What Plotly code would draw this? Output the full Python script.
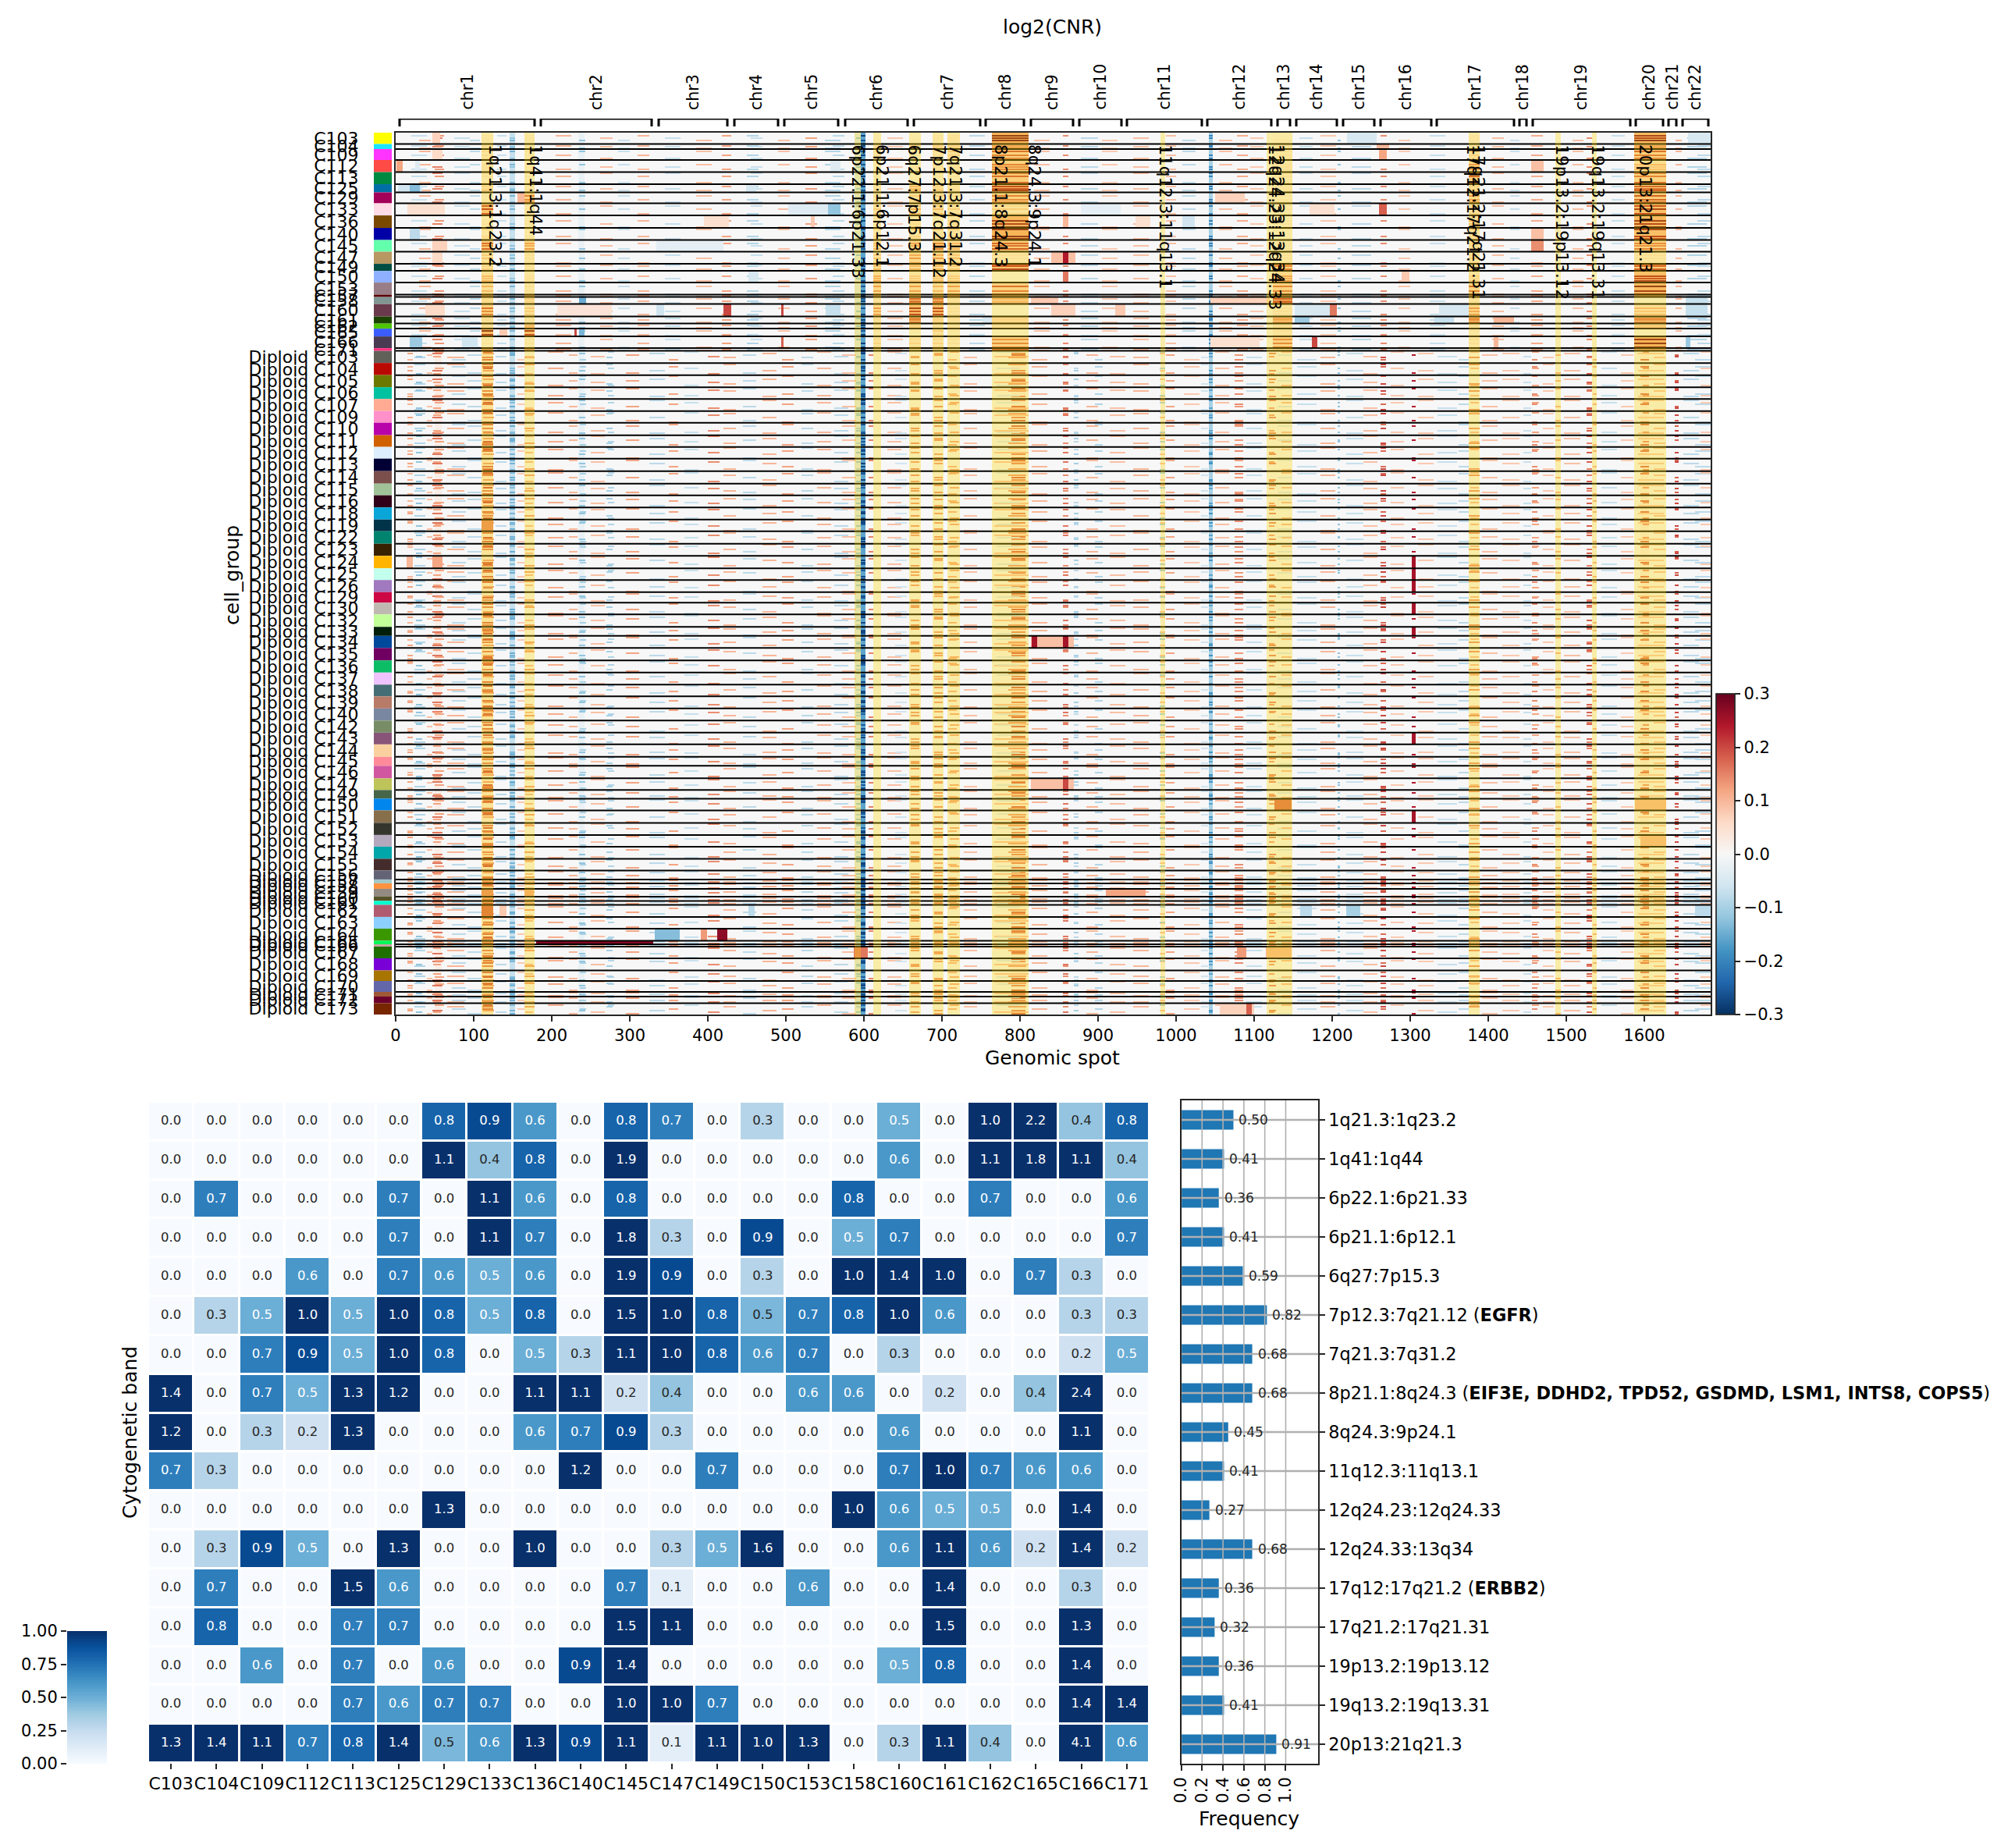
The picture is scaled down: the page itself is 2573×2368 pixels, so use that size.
import numpy as np
import plotly.graph_objects as go

W, H = 2573, 2368
FONT = "DejaVu Sans"

# ---- top heatmap: groups ----
tumor_groups = ["C103", "C104", "C109", "C112", "C113", "C125", "C129", "C133", "C136", "C140", "C145", "C147",
                "C149", "C150", "C153", "C157", "C158", "C160", "C161", "C162", "C165", "C166", "C171"]
tumor_cells = [29, 13, 28, 31, 31, 21, 28, 31, 32, 31, 30, 31, 18, 30, 31, 6, 18, 32, 18, 13, 20, 30, 7]
tumor_colors = ["#ffff00", "#1ce6ff", "#ff34ff", "#ff4a46", "#008941", "#006fa6", "#a30059", "#ffdbe5", "#7a4900",
                "#0000a6", "#63ffac", "#b79762", "#004d43", "#8fb0ff", "#997d87", "#5a0007", "#809693", "#6a3a4c",
                "#1b4400", "#4fc601", "#3b5dff", "#4a3b53", "#ff2f80"]

diploid_ids = [103, 104, 105, 106, 107, 109, 110, 111, 112, 113, 114, 115, 116, 118, 119, 122, 123, 124, 125, 126,
               129, 130, 132, 133, 134, 135, 136, 137, 138, 139, 140, 142, 143, 144, 145, 146, 147, 149, 150, 151,
               152, 153, 154, 155, 156, 157, 158, 159, 160, 161, 162, 163, 164, 165, 166, 167, 168, 169, 170, 171,
               172, 173]
diploid_groups = [f"Diploid C{i}" for i in diploid_ids]
diploid_cells = [31, 31, 31, 30, 31, 30, 32, 30, 30, 32, 32, 30, 31, 31, 30, 32, 31, 32, 30, 31, 27, 30, 32, 23, 31,
                 32, 31, 31, 30, 31, 31, 31, 30, 32, 23, 32, 30, 22, 30, 32, 31, 30, 31, 30, 23, 10, 14, 20, 11, 10,
                 31, 30, 31, 9, 6, 30, 31, 27, 28, 12, 17, 29]
diploid_colors = ["#61615a", "#ba0900", "#6b7900", "#00c2a0", "#ffaa92", "#ff90c9", "#b903aa", "#d16100", "#ddefff",
                  "#000035", "#7b4f4b", "#a1c299", "#300018", "#0aa6d8", "#013349", "#00846f", "#372101", "#ffb500",
                  "#c2ffed", "#a079bf", "#cc0744", "#c0b9b2", "#c2ff99", "#001e09", "#00489c", "#6f0062", "#0cbd66",
                  "#eec3ff", "#456d75", "#b77b68", "#7a87a1", "#788d66", "#885578", "#fad09f", "#ff8a9a", "#d157a0",
                  "#bec459", "#456648", "#0086ed", "#886f4c", "#34362d", "#b4a8bd", "#00a6aa", "#452c2c", "#636375",
                  "#a3c8c9", "#ff913f", "#938a81", "#575329", "#00fecf", "#b05b6f", "#8cd0ff", "#3b9700", "#04f757",
                  "#c8a1a1", "#1e6e00", "#7900d7", "#a77500", "#6367a9", "#a05837", "#6b002c", "#772600"]

chrom_names = [f"chr{i}" for i in range(1, 23)]
chrom_start = [5, 186, 337, 434, 498, 576, 664, 756, 814, 876, 937, 1040, 1130, 1154, 1214, 1262, 1334, 1440, 1457,
               1589, 1631, 1649]
chrom_end = [178, 328, 425, 490, 567, 656, 749, 805, 868, 930, 1033, 1122, 1146, 1206, 1254, 1327, 1433, 1449, 1582,
             1624, 1641, 1682]

band_names = ["1q21.3:1q23.2", "1q41:1q44", "6p22.1:6p21.33", "6p21.1:6p12.1", "6q27:7p15.3", "7p12.3:7q21.12",
              "7q21.3:7q31.2", "8p21.1:8q24.3", "8q24.3:9p24.1", "11q12.3:11q13.1", "12q24.23:12q24.33",
              "12q24.33:13q34", "17q12:17q21.2", "17q21.2:17q21.31", "19p13.2:19p13.12", "19q13.2:19q13.31",
              "20p13:21q21.3"]
band_start = [110, 165, 588, 612, 658, 688, 707, 764, 775, 980, 1116, 1124, 1375, 1382, 1486, 1533, 1587]
band_end = [125, 178, 596, 622, 673, 702, 723, 775, 811, 986, 1124, 1149, 1382, 1389, 1493, 1539, 1628]
band_label_x = [127, 179, 592, 623, 664, 696, 717, 775, 818, 986, 1126, 1130, 1380, 1387, 1494, 1540, 1601]

# recurring columns seen in every group (start, end, log2 ratio)
shared_columns = [(588, 596, -0.04), (596, 602, -0.16), (1042, 1047, -0.1), (146, 153, -0.07), (234, 242, -0.02)]

# pale column tint of the diploid block, averaged by eye (start, end, log2 ratio)
diploid_columns = [(110, 125, 0.03), (789, 807, 0.02), (1595, 1606, 0.02), (50, 59, 0.02)]

# rough per-group row of the streak in a column, one int per diploid group (only estimates: too fine to read exactly)
hits_a = [4, 18, 9, 22, 2, 14, 25, 7, 16, 11, 20, 3, 24, 13, 6, 19, 1, 10, 26, 15, 8, 21, 5, 12, 23, 17, 2, 9, 20, 14, 6, 25,
          11, 18, 3, 22, 8, 13, 1, 16, 24, 5, 19, 10, 4, 2, 7, 12, 3, 2, 21, 15, 9, 1, 1, 17, 6, 23, 11, 4, 8, 18]
hits_b = [15, 2, 21, 8, 26, 5, 12, 19, 1, 24, 9, 16, 6, 20, 27, 3, 13, 23, 7, 2, 18, 10, 25, 4, 14, 7, 21, 1, 11, 26, 17, 3,
          22, 8, 14, 5, 19, 2, 24, 10, 6, 20, 12, 1, 16, 5, 1, 6, 7, 5, 11, 3, 24, 3, 2, 8, 19, 13, 4, 8, 12, 7]
hits_c = [9, 24, 13, 1, 17, 22, 6, 11, 26, 3, 14, 20, 8, 1, 23, 12, 18, 5, 10, 27, 3, 16, 9, 20, 2, 11, 25, 15, 6, 1, 21, 13,
          8, 24, 17, 2, 10, 6, 19, 27, 14, 3, 7, 22, 11, 6, 9, 15, 1, 6, 17, 24, 4, 5, 3, 12, 1, 20, 22, 1, 3, 25]
hits_d = [21, 7, 1, 16, 11, 27, 3, 22, 8, 18, 5, 25, 12, 9, 2, 24, 7, 15, 20, 4, 13, 1, 19, 7, 9, 26, 6, 22, 16, 10, 2, 19,
          26, 12, 5, 16, 24, 15, 8, 3, 20, 25, 1, 14, 18, 1, 4, 2, 5, 1, 7, 19, 13, 2, 1, 23, 10, 4, 17, 6, 9, 13]
hits_e = [12, 26, 17, 5, 21, 8, 18, 1, 13, 6, 25, 10, 19, 3, 15, 8, 22, 2, 16, 11, 21, 6, 14, 1, 18, 3, 12, 27, 23, 19, 9, 7,
          15, 3, 10, 26, 2, 9, 12, 21, 1, 16, 24, 6, 8, 4, 11, 9, 8, 3, 25, 9, 18, 6, 4, 2, 15, 8, 1, 3, 14, 22]
hits_f = [1, 11, 24, 19, 7, 3, 22, 15, 5, 27, 2, 8, 16, 25, 10, 14, 5, 20, 3, 18, 11, 26, 2, 16, 6, 21, 9, 5, 1, 24, 13, 10,
          4, 20, 1, 11, 15, 19, 3, 7, 12, 9, 27, 17, 2, 7, 3, 17, 2, 7, 3, 12, 21, 4, 2, 27, 4, 16, 7, 9, 1, 3]

# streak columns of the diploid block (start, end, log2 ratio, row list)
diploid_features = [
    (15, 22, .12, hits_a), (15, 22, .1, hits_d), (24, 38, -.09, hits_b), (26, 34, -.12, hits_e), (40, 47, .09, hits_c),
    (47, 60, .16, hits_a), (48, 58, .12, hits_e), (50, 62, .12, hits_f), (66, 88, .1, hits_b), (72, 90, -.08, hits_d),
    (92, 110, -.08, hits_c), (111, 125, .16, hits_b), (111, 125, .18, hits_d), (112, 124, .2, hits_f), (112, 126, .13, hits_a),
    (128, 142, -.08, hits_e), (146, 153, -.14, hits_a), (146, 153, -.15, hits_c), (146, 153, -.13, hits_f),
    (156, 165, .08, hits_d), (165, 178, .13, hits_b), (166, 176, .1, hits_e), (195, 215, .11, hits_f), (222, 233, .1, hits_c),
    (235, 243, -.12, hits_a), (236, 244, -.1, hits_d), (250, 268, .09, hits_e), (270, 278, -.1, hits_b), (272, 280, -.09, hits_f),
    (295, 312, .12, hits_c), (325, 345, -.08, hits_a), (350, 362, .12, hits_d), (370, 388, -.07, hits_f), (400, 415, .14, hits_e),
    (420, 436, .1, hits_b), (445, 462, -.08, hits_c), (470, 488, .1, hits_a), (495, 510, .12, hits_d), (520, 535, -.08, hits_b),
    (540, 558, .1, hits_f), (562, 580, -.08, hits_e), (572, 590, .09, hits_c),
    (590, 596, -.1, hits_b), (590, 596, -.12, hits_e), (596, 602, -.28, hits_a), (596, 602, -.27, hits_d), (596, 602, -.25, hits_f),
    (606, 612, .15, hits_c), (630, 648, .09, hits_f), (640, 655, -.06, hits_a), (660, 671, .14, hits_b), (660, 671, .13, hits_e),
    (690, 701, .14, hits_c), (690, 701, .13, hits_a), (708, 719, .11, hits_d), (710, 722, .12, hits_f), (728, 745, .09, hits_b),
    (767, 811, .09, hits_e), (789, 807, .15, hits_a), (789, 807, .18, hits_c), (770, 800, -.05, hits_f), (785, 808, .13, hits_b),
    (815, 835, .1, hits_d), (855, 862, .14, hits_b), (855, 862, .16, hits_e), (869, 875, -.1, hits_a), (869, 875, -.08, hits_f),
    (885, 900, .1, hits_c), (896, 906, -.09, hits_d), (915, 935, .09, hits_e), (945, 965, .1, hits_b), (979, 986, .09, hits_a),
    (979, 986, -.1, hits_f), (987, 998, .12, hits_c), (1010, 1030, .08, hits_d), (1032, 1041, -.06, hits_b), (1042, 1047, -.16, hits_e),
    (1042, 1047, -.18, hits_a), (1050, 1068, .09, hits_f), (1075, 1086, .13, hits_c), (1075, 1086, .14, hits_d), (1090, 1110, -.07, hits_b),
    (1119, 1126, .13, hits_e), (1119, 1128, .15, hits_a), (1130, 1148, -.05, hits_c), (1135, 1148, .1, hits_f), (1155, 1180, -.07, hits_d),
    (1185, 1204, .1, hits_b), (1207, 1210, -.12, hits_c), (1207, 1210, -.12, hits_f), (1218, 1240, -.07, hits_a), (1240, 1258, .09, hits_e),
    (1262, 1269, .2, hits_b), (1262, 1269, .17, hits_d), (1275, 1292, .08, hits_f), (1302, 1307, .24, hits_c), (1310, 1330, .08, hits_a),
    (1335, 1360, -.07, hits_e), (1362, 1375, -.08, hits_d), (1375, 1389, .14, hits_b), (1377, 1388, .1, hits_f), (1392, 1412, .09, hits_c),
    (1418, 1440, .08, hits_a), (1445, 1455, -.07, hits_e), (1456, 1463, .14, hits_d), (1456, 1465, .12, hits_f), (1470, 1484, .08, hits_b),
    (1486, 1493, .11, hits_c), (1497, 1518, .09, hits_a), (1526, 1533, .18, hits_e), (1526, 1533, .15, hits_b), (1534, 1539, .11, hits_d),
    (1545, 1565, -.07, hits_f), (1570, 1586, .08, hits_c), (1592, 1625, .08, hits_a), (1595, 1606, .17, hits_d), (1598, 1606, .14, hits_f),
    (1612, 1627, .09, hits_b), (1639, 1644, .2, hits_e), (1639, 1644, .18, hits_c), (1650, 1670, -.08, hits_a), (1665, 1685, -.08, hits_d),
    (1672, 1685, .08, hits_f),
]

# rough row of the streak per tumour group, same order as tumor_groups
tumor_hits_a = [5, 2, 14, 22, 8, 3, 17, 25, 11, 19, 6, 27, 4, 12, 20, 1, 9, 24, 7, 2, 13, 16, 1]
tumor_hits_b = [18, 8, 3, 9, 24, 14, 6, 12, 27, 2, 21, 15, 11, 24, 7, 2, 2, 8, 12, 8, 4, 26, 3]
tumor_hits_c = [11, 5, 22, 16, 1, 10, 23, 4, 19, 26, 13, 7, 1, 18, 27, 3, 13, 17, 3, 5, 16, 5, 2]

# streak columns of the tumour block (start, end, log2 ratio, row list)
tumor_features = [
    (20, 40, -.07, tumor_hits_a), (30, 45, .1, tumor_hits_b), (47, 60, .15, tumor_hits_c), (50, 62, .13, tumor_hits_a),
    (75, 95, -.07, tumor_hits_c), (95, 108, -.08, tumor_hits_b), (130, 142, -.07, tumor_hits_a), (146, 153, -.14, tumor_hits_b),
    (146, 153, -.12, tumor_hits_c), (205, 225, .1, tumor_hits_a), (235, 243, -.12, tumor_hits_b), (262, 278, .09, tumor_hits_c),
    (285, 300, -.07, tumor_hits_b), (310, 325, .1, tumor_hits_a), (345, 365, -.07, tumor_hits_c), (385, 405, .09, tumor_hits_b),
    (418, 430, .12, tumor_hits_a), (450, 465, -.09, tumor_hits_a), (455, 470, -.07, tumor_hits_c), (490, 505, .09, tumor_hits_b),
    (525, 540, .12, tumor_hits_c), (550, 570, -.09, tumor_hits_b), (560, 575, -.08, tumor_hits_a), (590, 596, -.12, tumor_hits_c),
    (596, 602, -.28, tumor_hits_a), (596, 602, -.26, tumor_hits_b), (630, 650, .08, tumor_hits_c), (735, 755, -.08, tumor_hits_a),
    (818, 838, .09, tumor_hits_b), (855, 862, .14, tumor_hits_a), (878, 900, -.08, tumor_hits_c), (905, 925, .08, tumor_hits_b),
    (945, 965, .09, tumor_hits_c), (987, 1000, .09, tumor_hits_a), (1008, 1025, -.08, tumor_hits_b), (1042, 1047, -.2, tumor_hits_a),
    (1042, 1047, -.2, tumor_hits_c), (1055, 1072, .09, tumor_hits_b), (1078, 1092, .11, tumor_hits_a), (1095, 1112, .08, tumor_hits_c),
    (1158, 1175, -.07, tumor_hits_c), (1185, 1205, .08, tumor_hits_a), (1207, 1211, -.12, tumor_hits_b), (1225, 1250, -.08, tumor_hits_c),
    (1262, 1270, .14, tumor_hits_a), (1285, 1300, .08, tumor_hits_b), (1325, 1345, -.07, tumor_hits_a), (1405, 1420, .09, tumor_hits_c),
    (1428, 1440, -.07, tumor_hits_b), (1455, 1470, .11, tumor_hits_a), (1508, 1522, .09, tumor_hits_b), (1526, 1533, .14, tumor_hits_c),
    (1558, 1575, -.07, tumor_hits_a), (1640, 1648, .1, tumor_hits_b), (1655, 1680, -.09, tumor_hits_c), (1668, 1685, -.08, tumor_hits_a),
]

# how hot each amplified band runs in each tumour group, same order as tumor_groups
level_1q21 = [.02, .03, .04, .03, .03, .05, .02, .16, .02, .04, .14, .06, .05, .08, .08, .1, .04, .13, .03, .03, .2, .02, .1]
level_1q41 = [.02, .02, .02, .02, .02, .02, .12, .02, .02, .02, .1, .03, .03, .03, .03, .1, .05, .06, .02, .08, .18, .02, .1]
level_6p21 = [.01, .03, .03, .01, .02, .03, .03, .05, .03, .04, .07, .06, .07, .09, .1, .1, .03, .1, .03, .02, .02, .05, .05]
level_6q27 = [.01, .05, .02, .02, .01, .08, .05, .08, .05, .05, .1, .1, .08, .06, .1, .1, .14, .18, .13, .05, .01, .05, .05]
level_7p = [.02, .05, .03, .03, .02, .05, .05, .07, .02, .05, .12, .1, .08, .07, .08, .1, .13, .18, .05, .02, .05, .05, .05]
level_7q = [.03, .05, .05, .03, .02, .03, .04, .05, .05, .05, .08, .07, .06, .06, .1, .1, .03, .03, .03, .02, .02, .03, .02]
level_8 = [.22, .1, .13, .12, .14, .18, .12, .05, .2, .22, .15, .03, .17, .0, .13, .1, .08, .0, .05, .03, .0, .12, .15]
level_12q = [.01, .02, .03, .03, .03, .02, .02, .02, .02, .01, .02, .03, .12, .1, .12, .1, .15, .03, .1, .03, .03, .12, .05]
level_17q = [.02, .02, .05, .1, .15, .05, .1, .05, .08, .05, .05, .05, .05, .05, .13, .1, .03, .1, .12, .02, .02, .03, .02]
level_20 = [.2, .1, .13, .07, .13, .15, .15, .18, .2, .18, .12, .03, .15, .18, .2, .1, .0, .07, .12, .06, .0, .22, .1]
tumor_bands = [(level_1q21, 110, 125), (level_1q41, 165, 178), (level_6p21, 612, 622), (level_6q27, 658, 673),
               (level_7p, 688, 702), (level_7q, 707, 723), (level_8, 764, 811), (level_12q, 1124, 1149),
               (level_17q, 1375, 1389), (level_20, 1587, 1628)]

# single patches (group, start, end, log2 ratio)
group_patches = [
    ("C103", 47, 57, .07), ("C109", 47, 60, .06), ("C112", 1, 9, .12), ("C112", 25, 31, -.04), ("C112", 557, 570, -.04),
    ("C125", 3, 34, -.06), ("C125", 18, 31, -.13), ("C125", 449, 462, -.05), ("C129", 156, 165, .1),
    ("C133", 15, 63, .05), ("C133", 503, 570, -.04), ("C133", 554, 570, -.12), ("C136", 395, 427, .05),
    ("C136", 532, 537, .08), ("C140", 18, 31, -.08), ("C145", 47, 66, .07), ("C145", 334, 420, -.03),
    ("C147", 47, 60, .06), ("C150", 452, 465, -.05), ("C160", 38, 63, .06), ("C160", 207, 277, .04),
    ("C160", 420, 430, .2), ("C160", 494, 497, .2), ("C160", 551, 570, -.07), ("C160", 334, 344, -.06),
    ("C158", 235, 244, -.15), ("C161", 752, 764, -.05), ("C165", 229, 232, .2), ("C165", 235, 242, -.14),
    ("C165", 133, 143, .08), ("C166", 18, 34, -.11), ("C166", 85, 105, -.06), ("C166", 494, 497, .18),
    ("C103", 1219, 1257, -.05), ("C104", 1257, 1273, .1), ("C109", 1260, 1270, .12), ("C133", 1171, 1203, .05),
    ("C133", 1260, 1270, .18), ("C133", 878, 929, -.03), ("C129", 1050, 1088, .07), ("C136", 1008, 1024, -.06),
    ("C136", 855, 862, .1), ("C136", 948, 967, .05), ("C145", 1455, 1471, .14), ("C140", 1455, 1471, .09),
    ("C112", 1455, 1471, .09), ("C147", 840, 871, .09), ("C147", 855, 862, .24), ("C150", 855, 862, .16),
    ("C150", 1289, 1299, .08), ("C158", 814, 849, .08), ("C158", 1044, 1120, .07), ("C160", 1152, 1203, -.05),
    ("C160", 1197, 1206, .16), ("C160", 1337, 1375, -.05), ("C160", 840, 871, .07), ("C160", 922, 935, .08),
    ("C161", 1152, 1171, -.11), ("C161", 1331, 1356, -.07), ("C161", 1407, 1433, .1), ("C166", 1174, 1181, .2),
    ("C166", 1044, 1107, .05), ("C166", 1407, 1413, .1), ("C166", 1653, 1659, -.11), ("C158", 1653, 1681, -.07),
    ("C160", 1653, 1681, -.07), ("C103", 1656, 1685, -.05),
    ("Diploid C134", 814, 869, .09), ("Diploid C134", 815, 822, .25), ("Diploid C134", 855, 862, .25),
    ("Diploid C147", 814, 869, .09), ("Diploid C147", 855, 862, .2), ("Diploid C150", 1126, 1148, .17),
    ("Diploid C150", 1588, 1628, .1), ("Diploid C153", 1595, 1628, .1), ("Diploid C162", 1159, 1174, -.08),
    ("Diploid C162", 1218, 1236, -.1), ("Diploid C162", 1665, 1685, -.08), ("Diploid C165", 180, 330, .28),
    ("Diploid C164", 332, 364, -.13), ("Diploid C164", 412, 425, .27), ("Diploid C164", 391, 399, .13),
    ("Diploid C162", 133, 142, .08), ("Diploid C162", 452, 460, -.08), ("Diploid C162", 110, 125, .18),
    ("Diploid C119", 110, 125, .15), ("Diploid C124", 14, 22, .1), ("Diploid C124", 47, 60, .12),
    ("Diploid C159", 110, 125, .15), ("Diploid C159", 165, 177, .12), ("Diploid C159", 910, 961, .12),
    ("Diploid C167", 587, 605, .16), ("Diploid C167", 1115, 1148, .1), ("Diploid C167", 1078, 1090, .13),
    ("Diploid C173", 1056, 1100, .07), ("Diploid C173", 1090, 1097, .18), ("Diploid C124", 1302, 1307, .25),
    ("Diploid C125", 1302, 1307, .25), ("Diploid C126", 1302, 1307, .25), ("Diploid C130", 1302, 1307, .25),
    ("Diploid C133", 1302, 1307, .25), ("Diploid C143", 1302, 1307, .25), ("Diploid C151", 1302, 1307, .25),
]

# ---- lower panel ----
clone_names = ["C103", "C104", "C109", "C112", "C113", "C125", "C129", "C133", "C136", "C140", "C145", "C147",
               "C149", "C150", "C153", "C158", "C160", "C161", "C162", "C165", "C166", "C171"]
burden = [
    [0, 0, 0, 0, 0, 0, .8, .9, .6, 0, .8, .7, 0, .3, 0, 0, .5, 0, 1.0, 2.2, .4, .8],
    [0, 0, 0, 0, 0, 0, 1.1, .4, .8, 0, 1.9, 0, 0, 0, 0, 0, .6, 0, 1.1, 1.8, 1.1, .4],
    [0, .7, 0, 0, 0, .7, 0, 1.1, .6, 0, .8, 0, 0, 0, 0, .8, 0, 0, .7, 0, 0, .6],
    [0, 0, 0, 0, 0, .7, 0, 1.1, .7, 0, 1.8, .3, 0, .9, 0, .5, .7, 0, 0, 0, 0, .7],
    [0, 0, 0, .6, 0, .7, .6, .5, .6, 0, 1.9, .9, 0, .3, 0, 1.0, 1.4, 1.0, 0, .7, .3, 0],
    [0, .3, .5, 1.0, .5, 1.0, .8, .5, .8, 0, 1.5, 1.0, .8, .46, .7, .8, 1.0, .6, 0, 0, .3, .3],
    [0, 0, .7, .9, .5, 1.0, .8, 0, .5, .3, 1.1, 1.0, .8, .6, .7, 0, .3, 0, 0, 0, .2, .5],
    [1.4, 0, .7, .5, 1.3, 1.2, 0, 0, 1.1, 1.1, .2, .4, 0, 0, .6, .6, 0, .2, 0, .4, 2.4, 0],
    [1.2, 0, .3, .2, 1.3, 0, 0, 0, .6, .7, .9, .3, 0, 0, 0, 0, .6, 0, 0, 0, 1.1, 0],
    [.7, .3, 0, 0, 0, 0, 0, 0, 0, 1.2, 0, 0, .7, 0, 0, 0, .7, 1.0, .7, .6, .6, 0],
    [0, 0, 0, 0, 0, 0, 1.3, 0, 0, 0, 0, 0, 0, 0, 0, 1.0, .6, .5, .5, 0, 1.4, 0],
    [0, .3, .9, .5, 0, 1.3, 0, 0, 1.0, 0, 0, .3, .5, 1.6, 0, 0, .6, 1.1, .6, .2, 1.4, .2],
    [0, .7, 0, 0, 1.5, .6, 0, 0, 0, 0, .7, .1, 0, 0, .6, 0, 0, 1.4, 0, 0, .3, 0],
    [0, .8, 0, 0, .7, .7, 0, 0, 0, 0, 1.5, 1.1, 0, 0, 0, 0, 0, 1.5, 0, 0, 1.3, 0],
    [0, 0, .6, 0, .7, 0, .6, 0, 0, .9, 1.4, 0, 0, 0, 0, 0, .5, .8, 0, 0, 1.4, 0],
    [0, 0, 0, 0, .7, .6, .7, .7, 0, 0, 1.0, 1.0, .7, 0, 0, 0, 0, 0, 0, 0, 1.4, 1.4],
    [1.3, 1.4, 1.1, .7, .8, 1.4, .46, .6, 1.3, .9, 1.1, .1, 1.1, 1.0, 1.3, 0, .3, 1.1, .4, 0, 4.1, .6],
]
band_freq = [.50, .41, .36, .41, .59, .82, .68, .68, .45, .41, .27, .68, .36, .32, .36, .41, .91]
band_ticktext = ["1q21.3:1q23.2", "1q41:1q44", "6p22.1:6p21.33", "6p21.1:6p12.1", "6q27:7p15.3",
                 "7p12.3:7q21.12 (<b>EGFR</b>)", "7q21.3:7q31.2",
                 "8p21.1:8q24.3 (<b>EIF3E, DDHD2, TPD52, GSDMD, LSM1, INTS8, COPS5</b>)", "8q24.3:9p24.1",
                 "11q12.3:11q13.1", "12q24.23:12q24.33", "12q24.33:13q34", "17q12:17q21.2 (<b>ERBB2</b>)",
                 "17q21.2:17q21.31", "19p13.2:19p13.12", "19q13.2:19q13.31", "20p13:21q21.3"]
freq_ticks = [0, .2, .4, .6, .8, 1.0]

RDBU = ["#053061", "#2166ac", "#4393c3", "#92c5de", "#d1e5f0", "#f7f7f7", "#fddbc7", "#f4a582", "#d6604d", "#b2182b", "#67001f"]
BLUES = ["#f7fbff", "#deebf7", "#c6dbef", "#9ecae1", "#6baed6", "#4292c6", "#2171b5", "#08519c", "#08306b"]
SPINE = "#262626"


def hdom(a, b):
    return [a / W, b / W]


def vdom(top, bottom):
    return [1 - bottom / H, 1 - top / H]


# build the matrix, one row per cell (kept as hundredths so the file stays small)
groups = tumor_groups + diploid_groups
cells = tumor_cells + diploid_cells
colors = tumor_colors + diploid_colors
edges = np.cumsum([0] + cells)
n_rows, n_spots = int(edges[-1]), 1685
first_row = dict(zip(groups, edges[:-1]))
size_of = dict(zip(groups, cells))
z = np.zeros((n_rows, n_spots), dtype=np.int8)


def paint(row0, row1, start, end, value):
    z[row0:row1, start:end] = int(round(value * 100))


def paint_hit(group, row, start, end, value):
    top = first_row[group] + min(row, max(size_of[group] - 4, 0))
    paint(top, top + 4, start, end, value)


diploid_top = int(first_row["Diploid C103"])
for start, end, value in diploid_columns:
    paint(diploid_top, n_rows, start, end, value)
for start, end, value in shared_columns:
    paint(0, n_rows, start, end, value)
for start, end, value, rows in diploid_features:
    for g, row in zip(diploid_groups, rows):
        paint_hit(g, row, start, end, value)
for start, end, value, rows in tumor_features:
    for g, row in zip(tumor_groups, rows):
        paint_hit(g, row, start, end, value)
for g, start, end, value in group_patches:
    paint(first_row[g], first_row[g] + size_of[g], start, end, value)
for values, start, end in tumor_bands:
    for i, (g, value) in enumerate(zip(tumor_groups, values)):
        paint(first_row[g], first_row[g] + size_of[g], start, end, value * 0.55)
        paint_hit(g, tumor_hits_a[i], start, end, value * 1.4)
        paint_hit(g, tumor_hits_b[i], start, end, value * 1.5)
        paint_hit(g, tumor_hits_c[i], start, end, value * 1.3)

fig = go.Figure()

fig.add_trace(go.Heatmap(
    z=z, x0=0.5, dx=1, y0=0.5, dy=1, xaxis="x", yaxis="y", zmin=-30, zmax=30, hoverinfo="skip",
    colorscale=[[i / 10, c] for i, c in enumerate(RDBU)],
    colorbar=dict(x=2199 / W, xanchor="left", xpad=0, y=1 - 889 / H, yanchor="top", ypad=0, lenmode="pixels", len=411,
                  thickness=24, outlinewidth=1.7, outlinecolor=SPINE, ticks="outside", ticklen=7, tickwidth=1.7,
                  tickcolor=SPINE, tickvals=[-30, -20, -10, 0, 10, 20, 30],
                  ticktext=["\u22120.3", "\u22120.2", "\u22120.1", "0.0", "0.1", "0.2", "0.3"],
                  tickfont=dict(family=FONT, size=21, color="black")),
))

# black rules between groups
rule_x, rule_y = [], []
for e in edges[1:-1]:
    rule_x += [0, n_spots, None]
    rule_y += [float(e), float(e), None]
fig.add_trace(go.Scatter(x=rule_x, y=rule_y, mode="lines", line=dict(color="black", width=2), hoverinfo="skip",
                         xaxis="x", yaxis="y", showlegend=False))

# colour track with the group labels
centers = (edges[:-1] + edges[1:]) / 2
fig.add_trace(go.Bar(x=[0] * len(groups), y=cells, base=edges[:-1], width=1, marker=dict(color=colors, line_width=0),
                     xaxis="x2", yaxis="y2", hoverinfo="skip", showlegend=False))

# chromosome brackets
br_x, br_y = [], []
for a, b in zip(chrom_start, chrom_end):
    br_x += [a, a, b, b, None]
    br_y += [0, 1, 1, 0, None]
fig.add_trace(go.Scatter(x=br_x, y=br_y, mode="lines", line=dict(color="black", width=3), xaxis="x", yaxis="y5",
                         hoverinfo="skip", showlegend=False, cliponaxis=False))

# burden matrix
fig.add_trace(go.Heatmap(z=burden, x=clone_names, y=band_names, xaxis="x3", yaxis="y3", zmin=0, zmax=1, xgap=3, ygap=3,
                         showscale=False, hoverinfo="skip", colorscale=[[i / 8, c] for i, c in enumerate(BLUES)]))
cell_x, cell_y, cell_t, cell_c = [], [], [], []
for r, row in enumerate(burden):
    for c, v in enumerate(row):
        cell_x.append(clone_names[c])
        cell_y.append(band_names[r])
        cell_t.append(f"{v:.1f}")
        cell_c.append("#262626" if v < 0.47 else "white")
fig.add_trace(go.Scatter(x=cell_x, y=cell_y, text=cell_t, mode="text", textfont=dict(family=FONT, size=16.5, color=cell_c),
                         xaxis="x3", yaxis="y3", hoverinfo="skip", showlegend=False))

# frequency bars, grid drawn on top of them
fig.add_trace(go.Bar(x=band_freq, y=band_names, orientation="h", width=0.5, marker=dict(color="#1f77b4", line_width=0),
                     xaxis="x4", yaxis="y4", hoverinfo="skip", showlegend=False))
XMAX = 1.31
for t in freq_ticks:
    fig.add_trace(go.Scatter(x=[t, t], y=[-0.5, 16.5], mode="lines", xaxis="x4", yaxis="y6",
                             line=dict(color="#b0b0b0", width=1.6), hoverinfo="skip", showlegend=False))
grid_x, grid_y = [], []
for b in band_names:
    grid_x += [0, XMAX, None]
    grid_y += [b, b, None]
fig.add_trace(go.Scatter(x=grid_x, y=grid_y, mode="lines", xaxis="x4", yaxis="y4", line=dict(color="#b0b0b0", width=2.4),
                         hoverinfo="skip", showlegend=False))

# small gradient legend beside the matrix
legend_steps = list(np.linspace(0, 1, 128))
fig.add_trace(go.Heatmap(z=[[v] for v in legend_steps], y=legend_steps, xaxis="x5", yaxis="y7", zmin=0, zmax=1,
                         showscale=False, hoverinfo="skip", colorscale=[[i / 8, c] for i, c in enumerate(BLUES)]))

# yellow bands over the heatmap
shapes = [dict(type="rect", xref="x", yref="y", x0=a, x1=b, y0=0, y1=n_rows, layer="above", line_width=0,
               fillcolor="rgba(255,215,0,0.32)") for a, b in zip(band_start, band_end)]

annotations = []
for name, a, b in zip(chrom_names, chrom_start, chrom_end):
    annotations.append(dict(text=name, x=(a + b) / 2, xref="x", y=1 - 143 / H, yref="paper", textangle=-90, showarrow=False,
                            xanchor="center", yanchor="bottom", font=dict(family=FONT, size=20.5, color="black")))
for name, x in zip(band_names, band_label_x):
    annotations.append(dict(text=name, x=x, xref="x", y=1 - 183 / H, yref="paper", textangle=90, showarrow=False,
                            xanchor="center", yanchor="top", font=dict(family=FONT, size=21.5, color="black")))
for name, v in zip(band_names, band_freq):
    annotations.append(dict(text=f"{v:.2f}", x=v, xref="x4", y=name, yref="y4", showarrow=False, xanchor="left", xshift=5,
                            font=dict(family=FONT, size=17, color="#262626")))


def title(text, px, py, angle=0):
    annotations.append(dict(text=text, x=px / W, y=1 - py / H, xref="paper", yref="paper", textangle=angle, showarrow=False,
                            xanchor="center", yanchor="middle", font=dict(family=FONT, size=25, color="black")))


title("log2(CNR)", 1348, 35)
title("Genomic spot", 1348, 1355)
title("cell_group", 297, 737, -90)
title("Cytogenetic band", 166, 1836, -90)
title("Frequency", 1600, 2330)

tick_font = dict(family=FONT, size=21, color="black")
label_font = dict(family=FONT, size=22, color="black")

fig.update_layout(
    width=W, height=H, margin=dict(l=0, r=0, t=0, b=0, autoexpand=False), paper_bgcolor="white", plot_bgcolor="white",
    showlegend=False, barmode="overlay", shapes=shapes, annotations=annotations,
    xaxis=dict(domain=hdom(507, 2192), range=[0, n_spots], tickvals=list(range(0, 1601, 100)), ticks="outside", ticklen=7,
               tickwidth=1.7, tickcolor=SPINE, tickfont=tick_font, showline=True, linecolor=SPINE, linewidth=1.7, mirror=True,
               showgrid=False, zeroline=False, anchor="y"),
    yaxis=dict(domain=vdom(170, 1300), range=[n_rows, 0], showticklabels=False, ticks="", showline=True, linecolor=SPINE,
               linewidth=1.7, mirror=True, showgrid=False, zeroline=False, anchor="x"),
    xaxis2=dict(domain=hdom(479, 502), range=[-0.5, 0.5], visible=False, anchor="y2"),
    yaxis2=dict(domain=vdom(170, 1300), range=[n_rows, 0], tickmode="array", tickvals=list(centers), ticktext=groups,
                tickfont=label_font, ticks="outside", ticklen=14, tickcolor="rgba(0,0,0,0)", showgrid=False, zeroline=False,
                showline=False, anchor="x2"),
    yaxis5=dict(domain=vdom(152, 162), range=[0, 1], visible=False, anchor="x"),
    xaxis3=dict(domain=hdom(190, 1473), type="category", categoryorder="array", categoryarray=clone_names, tickangle=0,
                range=[-0.5, 21.5], tickfont=label_font, ticks="outside", ticklen=7, tickwidth=1.7, tickcolor=SPINE,
                showgrid=False, zeroline=False, showline=False, anchor="y3"),
    yaxis3=dict(domain=vdom(1412, 2259), type="category", categoryorder="array", categoryarray=band_names, range=[16.5, -0.5],
                showticklabels=False, ticks="", showgrid=False, zeroline=False, showline=False, anchor="x3"),
    xaxis4=dict(domain=hdom(1513.5, 1689), range=[0, XMAX], tickvals=freq_ticks, tickformat=".1f", tickangle=-90, tickfont=tick_font,
                ticks="outside", ticklen=7, tickwidth=1.7, tickcolor=SPINE, showgrid=False, zeroline=False, showline=True,
                linecolor=SPINE, linewidth=1.7, mirror=True, anchor="y4"),
    yaxis4=dict(domain=vdom(1410, 2260), type="category", categoryorder="array", categoryarray=band_names, range=[16.5, -0.5],
                side="right", tickmode="array", tickvals=band_names, ticktext=band_ticktext,
                tickfont=dict(family=FONT, size=22.4, color="black"), ticks="outside", ticklen=7, tickwidth=1.7, tickcolor=SPINE,
                showgrid=False, zeroline=False, showline=True, linecolor=SPINE, linewidth=1.7, mirror=True, anchor="x4"),
    yaxis6=dict(domain=vdom(1410, 2260), range=[16.5, -0.5], overlaying="y4", visible=False, anchor="x4"),
    xaxis5=dict(domain=hdom(86, 137), visible=False, anchor="y7"),
    yaxis7=dict(domain=vdom(2090, 2260), range=[0, 1], tickvals=[0, .25, .5, .75, 1], tickformat=".2f", tickfont=tick_font,
                ticks="outside", ticklen=7, tickwidth=1.7, tickcolor=SPINE, showgrid=False, zeroline=False, showline=False, anchor="x5"),
)

fig.write_html("out.html", post_script="document.body.style.margin='0';", config={"displayModeBar": False})
